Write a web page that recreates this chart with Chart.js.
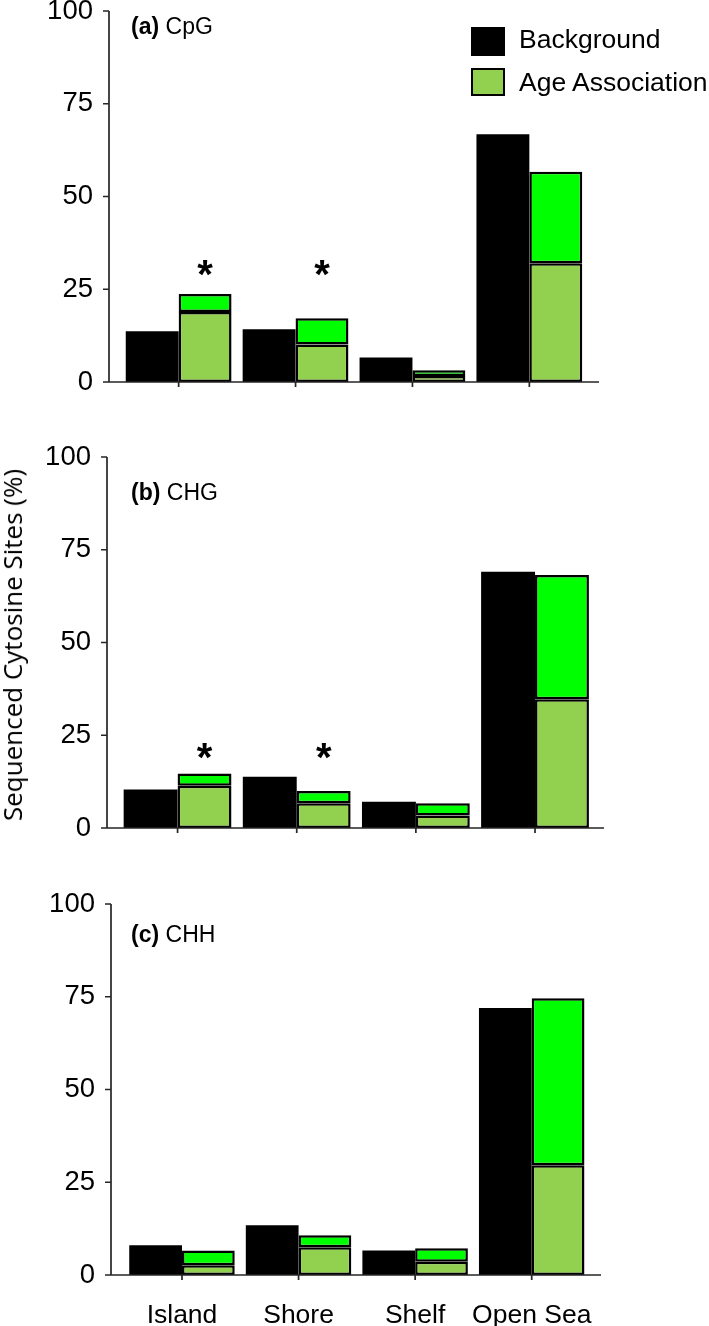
<!DOCTYPE html>
<html>
<head>
<meta charset="utf-8">
<title>Sequenced Cytosine Sites</title>
<script src="https://cdn.jsdelivr.net/npm/chart.js@4.4.0/dist/chart.umd.min.js"></script>
<style>
  body { margin: 0; background: #fff; }
  #page { position: relative; width: 709px; height: 1326px; overflow: hidden;
          font-family: 'Liberation Sans', Arial, sans-serif; color: #000; }
  canvas { position: absolute; left: 0; }
  .panel-label { position: absolute; left: 131px; font-size: 23px; line-height: 26px; white-space: nowrap; }
  .legend-box { position: absolute; left: 471px; width: 34px; box-sizing: border-box; }
  .legend-text { position: absolute; left: 519px; font-size: 26.5px; line-height: 30px; white-space: nowrap; }
  #ytitle { position: absolute; left: 12px; top: 645px; font-family: 'Open Sans', sans-serif; font-size: 26px;
            white-space: nowrap; transform: translate(-50%, -50%) rotate(-90deg); }
</style>
</head>
<body>
<div id="page">
  <canvas id="chartA" width="709" height="400" style="top:0px;width:709px;height:400px"></canvas>
  <canvas id="chartB" width="709" height="430" style="top:420px;width:709px;height:430px"></canvas>
  <canvas id="chartC" width="709" height="466" style="top:860px;width:709px;height:466px"></canvas>

  <div class="panel-label" style="top:13px"><b>(a)</b> CpG</div>
  <div class="panel-label" style="top:479px"><b>(b)</b> CHG</div>
  <div class="panel-label" style="top:921px"><b>(c)</b> CHH</div>

  <div class="legend-box" style="top:27px;height:29px;background:#000"></div>
  <div class="legend-text" style="top:24px">Background</div>
  <div class="legend-box" style="top:68px;height:28px;background:#92D050;border:2px solid #000"></div>
  <div class="legend-text" style="top:67px">Age Association</div>

  <div id="ytitle">Sequenced Cytosine Sites (%)</div>
</div>

<script>
// categories and tick values
const regions = ['Island', 'Shore', 'Shelf', 'Open Sea'];
const yTicks = [0, 25, 50, 75, 100];

// (a) CpG
const backgroundCpG = [13.7, 14.2, 6.6, 66.8];
const ageLowerCpG = [18.9, 10.1, 1.6, 32.0];
const ageUpperCpG = [4.8, 7.1, 1.6, 24.7];
const starsCpG = [true, true, false, false];
const starLevelCpG = 31.5;

// (b) CHG
const backgroundCHG = [10.4, 13.8, 7.1, 69.1];
const ageLowerCHG = [11.4, 6.7, 3.4, 34.7];
const ageUpperCHG = [3.3, 3.3, 3.3, 33.5];
const starsCHG = [true, true, false, false];
const starLevelCHG = 21.5;

// (c) CHH
const backgroundCHH = [8.0, 13.4, 6.6, 72.0];
const ageLowerCHH = [2.6, 7.5, 3.6, 29.6];
const ageUpperCHH = [4.0, 3.2, 3.6, 45.0];
const starsCHH = [false, false, false, false];
const starLevelCHH = 0;

const BLACK = '#000000';
const LIGHT_GREEN = '#92D050';
const BRIGHT_GREEN = '#00FF00';
const AXIS_COLOR = '#262626';
const TICK_FONT = { family: "'Liberation Sans', Arial, sans-serif", size: 27.5 };

// draws the axis lines and tick marks a little outside the plot area
const axesPlugin = {
    id: 'axes',
    afterDatasetsDraw(chart, args, opts) {
        const { ctx, scales: { x, y } } = chart;
        const y0 = y.getPixelForValue(0);
        const yTop = y.getPixelForValue(100);
        ctx.save();
        ctx.strokeStyle = AXIS_COLOR;
        ctx.lineWidth = 1.7;
        ctx.beginPath();
        ctx.moveTo(opts.axisX, yTop);
        ctx.lineTo(opts.axisX, y0);
        ctx.lineTo(opts.axisEnd, y0);
        y.ticks.forEach(t => {
            const py = y.getPixelForValue(t.value);
            ctx.moveTo(opts.axisX - 6, py);
            ctx.lineTo(opts.axisX, py);
        });
        x.ticks.forEach((t, i) => {
            const px = x.getPixelForTick(i);
            ctx.moveTo(px, y0);
            ctx.lineTo(px, y0 + 5);
        });
        ctx.stroke();
        ctx.restore();
    }
};

// asterisks over the significant Age Association bars
const starsPlugin = {
    id: 'stars',
    afterDatasetsDraw(chart, args, opts) {
        if (!opts.flags) return;
        const { ctx, scales: { y } } = chart;
        const meta = chart.getDatasetMeta(1);
        const size = 40;
        ctx.save();
        ctx.fillStyle = '#000';
        ctx.font = 'bold ' + size + "px 'Liberation Sans', Arial, sans-serif";
        ctx.textAlign = 'center';
        ctx.textBaseline = 'alphabetic';
        opts.flags.forEach((on, i) => {
            if (!on) return;
            const bar = meta.data[i];
            ctx.fillText('*', bar.x, y.getPixelForValue(opts.level) + size * 0.57);
        });
        ctx.restore();
    }
};

function makeChart(canvasId, bg, lower, upper, stars, starLevel, box) {
    const canvas = document.getElementById(canvasId);
    return new Chart(canvas.getContext('2d'), {
        type: 'bar',
        data: {
            labels: regions,
            datasets: [
                { label: 'Background', data: bg, stack: 'bg', backgroundColor: BLACK, borderWidth: 0 },
                { label: 'Age Association', data: lower, stack: 'age', backgroundColor: LIGHT_GREEN,
                  borderColor: '#000', borderWidth: 2.5, borderSkipped: false },
                { label: 'Age Association (upper)', data: upper, stack: 'age', backgroundColor: BRIGHT_GREEN,
                  borderColor: '#000', borderWidth: 2.5, borderSkipped: false }
            ]
        },
        options: {
            responsive: false,
            animation: false,
            events: [],
            layout: {
                padding: { left: 0, right: 709 - box.right, top: box.top, bottom: box.bottomPad }
            },
            datasets: { bar: { categoryPercentage: 0.905, barPercentage: 1.0 } },
            scales: {
                x: {
                    stacked: true,
                    grid: { display: false, drawTicks: false },
                    border: { display: false },
                    ticks: {
                        display: box.showLabels,
                        color: '#000',
                        font: { family: TICK_FONT.family, size: 26.5 },
                        padding: 25,
                        autoSkip: false,
                        maxRotation: 0,
                        minRotation: 0
                    },
                    afterFit(s) {
                        s.height = box.xHeight;
                        s.paddingLeft = 0;
                        s.paddingRight = 0;
                    }
                },
                y: {
                    stacked: true,
                    min: 0,
                    max: 100,
                    afterBuildTicks(s) { s.ticks = yTicks.map(v => ({ value: v })); },
                    grid: { display: false, drawTicks: false },
                    border: { display: false },
                    ticks: { color: '#000', font: TICK_FONT, padding: box.left - (box.axisX - 16) },
                    afterFit(s) {
                        s.width = box.left;
                        s.paddingTop = 0;
                        s.paddingBottom = 0;
                    }
                }
            },
            plugins: {
                legend: { display: false },
                tooltip: { enabled: false },
                axes: { axisX: box.axisX, axisEnd: box.axisEnd },
                stars: { flags: stars, level: starLevel }
            }
        },
        plugins: [axesPlugin, starsPlugin]
    });
}

makeChart('chartA', backgroundCpG, ageLowerCpG, ageUpperCpG, starsCpG, starLevelCpG,
    { top: 11, bottomPad: 18, xHeight: 0, left: 120.2, right: 587.8, axisX: 109, axisEnd: 599, showLabels: false });
makeChart('chartB', backgroundCHG, ageLowerCHG, ageUpperCHG, starsCHG, starLevelCHG,
    { top: 37, bottomPad: 22, xHeight: 0, left: 118, right: 594.6, axisX: 107, axisEnd: 604, showLabels: false });
makeChart('chartC', backgroundCHH, ageLowerCHH, ageUpperCHH, starsCHH, starLevelCHH,
    { top: 44, bottomPad: 0, xHeight: 51, left: 123.7, right: 590, axisX: 111, axisEnd: 601, showLabels: true });
</script>
</body>
</html>
